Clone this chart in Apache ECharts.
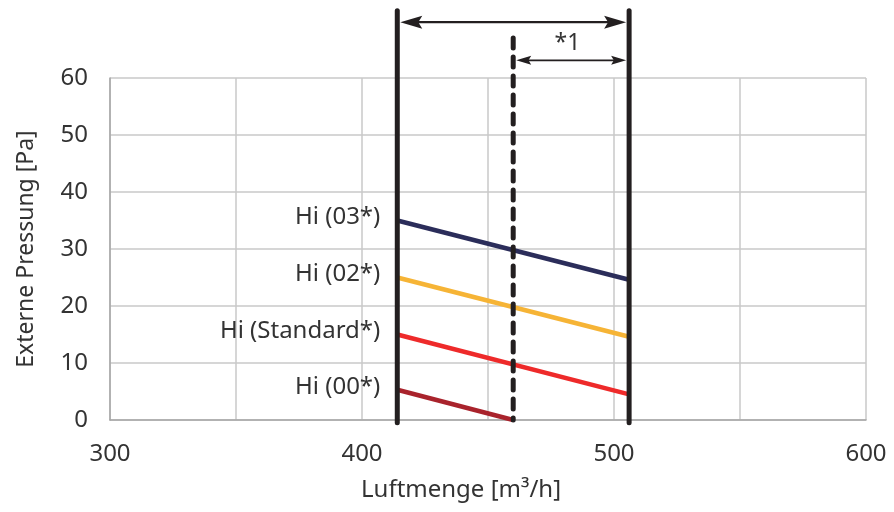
<!DOCTYPE html>
<html>
<head>
<meta charset="utf-8">
<script src="https://cdn.jsdelivr.net/npm/echarts@6/dist/echarts.min.js"></script>
<style>
html,body{margin:0;padding:0;background:#fff;}
#chart{width:894px;height:512px;}
</style>
</head>
<body>
<div id="chart"></div>
<script>
// ---- data ----
const xTicks = [300, 350, 400, 450, 500, 550, 600];
const yTicks = [0, 10, 20, 30, 40, 50, 60];
const seriesNames = ['Hi (03*)', 'Hi (02*)', 'Hi (Standard*)', 'Hi (00*)'];
const seriesX = [[414, 506], [414, 506], [414, 506], [414, 460]];
const seriesY = [[35, 24.6], [25, 14.6], [15, 4.5], [5.3, 0]];
const boundX = [414, 506];          // solid range limits
const boundY = [-0.5, 71.8];
const dashX = 460;                  // dashed limit
const dashY = [0, 67];
const arrowSpans = [[414, 506, 69.8], [460, 506, 63.1]];
const noteText = '*1';
const notePos = [481.5, 66];
const xName = 'Luftmenge [m³/h]';
const yName = 'Externe Pressung [Pa]';

// ---- styles ----
const colors = ['#2b2d5a', '#f6b436', '#ee2a2a', '#a9232c'];
const ink = '#231f20';
const txt = '#333333';
const font = 'Noto Sans';
const arrowStyles = [
  {lw: 2.2, len: 22, h: 6.5, gap: 3},
  {lw: 1.6, len: 15, h: 4.5, gap: 3}
];

const chart = echarts.init(document.getElementById('chart'), null, {renderer: 'canvas'});

const lineSeries = seriesNames.map((name, i) => ({
  name: name,
  type: 'line',
  showSymbol: false,
  symbol: 'none',
  z: 3,
  lineStyle: {color: colors[i], width: 4.5},
  data: seriesX[i].map((x, j) => [x, seriesY[i][j]])
}));

const labelSeries = {
  type: 'custom', clip: false, z: 6,
  data: seriesNames.map((n, i) => [seriesX[i][0], seriesY[i][0], i]),
  renderItem: function (params, api) {
    const p = api.coord([api.value(0), api.value(1)]);
    return {
      type: 'text',
      style: {text: seriesNames[api.value(2)], x: p[0] - 17, y: p[1] - 3, align: 'right', verticalAlign: 'middle',
              fill: txt, font: '24px "' + font + '"'}
    };
  }
};

const option = {
  animation: false,
  backgroundColor: '#fff',
  grid: {left: 110, right: 28, top: 78, bottom: 92, containLabel: false},
  xAxis: {
    type: 'value', min: xTicks[0], max: xTicks[xTicks.length - 1], interval: 50,
    name: xName, nameLocation: 'middle', nameGap: 58,
    nameTextStyle: {color: txt, fontSize: 24, fontFamily: font, padding: [0, 54, 0, 0]},
    axisLine: {show: true, lineStyle: {color: '#a6a6a6', width: 1.5}},
    axisTick: {show: false},
    axisLabel: {
      color: txt, fontSize: 24, fontFamily: font, margin: 22,
      formatter: v => (v % 100 === 0 ? String(v) : '')
    },
    splitLine: {show: true, lineStyle: {color: '#c8c8c8', width: 1.5}}
  },
  yAxis: {
    type: 'value', min: yTicks[0], max: yTicks[yTicks.length - 1], interval: 10,
    name: yName, nameLocation: 'middle', nameGap: 72, nameRotate: 90,
    nameTextStyle: {color: txt, fontSize: 23, fontFamily: font},
    axisLine: {show: true, lineStyle: {color: '#a6a6a6', width: 1.5}},
    axisTick: {show: false},
    axisLabel: {color: txt, fontSize: 24, fontFamily: font, margin: 22},
    splitLine: {show: true, lineStyle: {color: '#c8c8c8', width: 1.5}}
  },
  series: lineSeries.concat([
    labelSeries,
    {
      type: 'line', clip: false, showSymbol: false, symbol: 'none', z: 4,
      lineStyle: {color: ink, width: 5, cap: 'round'},
      data: [[boundX[0], boundY[0]], [boundX[0], boundY[1]]]
    },
    {
      type: 'line', clip: false, showSymbol: false, symbol: 'none', z: 4,
      lineStyle: {color: ink, width: 5, cap: 'round'},
      data: [[boundX[1], boundY[0]], [boundX[1], boundY[1]]]
    },
    {
      type: 'line', clip: false, showSymbol: false, symbol: 'none', z: 4,
      lineStyle: {color: ink, width: 5, type: [10, 9], cap: 'round'},
      data: [[dashX, dashY[1]], [dashX, dashY[0]]]
    },
    {
      type: 'custom', clip: false, z: 5,
      data: arrowSpans,
      renderItem: function (params, api) {
        const st = arrowStyles[params.dataIndex];
        const p1 = api.coord([api.value(0), api.value(2)]);
        const p2 = api.coord([api.value(1), api.value(2)]);
        const y = p1[1];
        const a = p1[0] + st.gap, b = p2[0] - st.gap;
        return {
          type: 'group',
          children: [
            {type: 'line', shape: {x1: a + st.len * 0.7, y1: y, x2: b - st.len * 0.7, y2: y},
             style: {stroke: ink, lineWidth: st.lw}},
            {type: 'polygon', shape: {points: [[a, y], [a + st.len, y - st.h], [a + st.len * 0.82, y], [a + st.len, y + st.h]]},
             style: {fill: ink}},
            {type: 'polygon', shape: {points: [[b, y], [b - st.len, y - st.h], [b - st.len * 0.82, y], [b - st.len, y + st.h]]},
             style: {fill: ink}}
          ]
        };
      }
    },
    {
      type: 'custom', clip: false, z: 5,
      data: [notePos],
      renderItem: function (params, api) {
        const p = api.coord([api.value(0), api.value(1)]);
        return {
          type: 'text',
          style: {text: noteText, x: p[0], y: p[1], align: 'center', verticalAlign: 'middle',
                  fill: txt, font: '23px "' + font + '"'}
        };
      }
    }
  ])
};
chart.setOption(option);
</script>
</body>
</html>
